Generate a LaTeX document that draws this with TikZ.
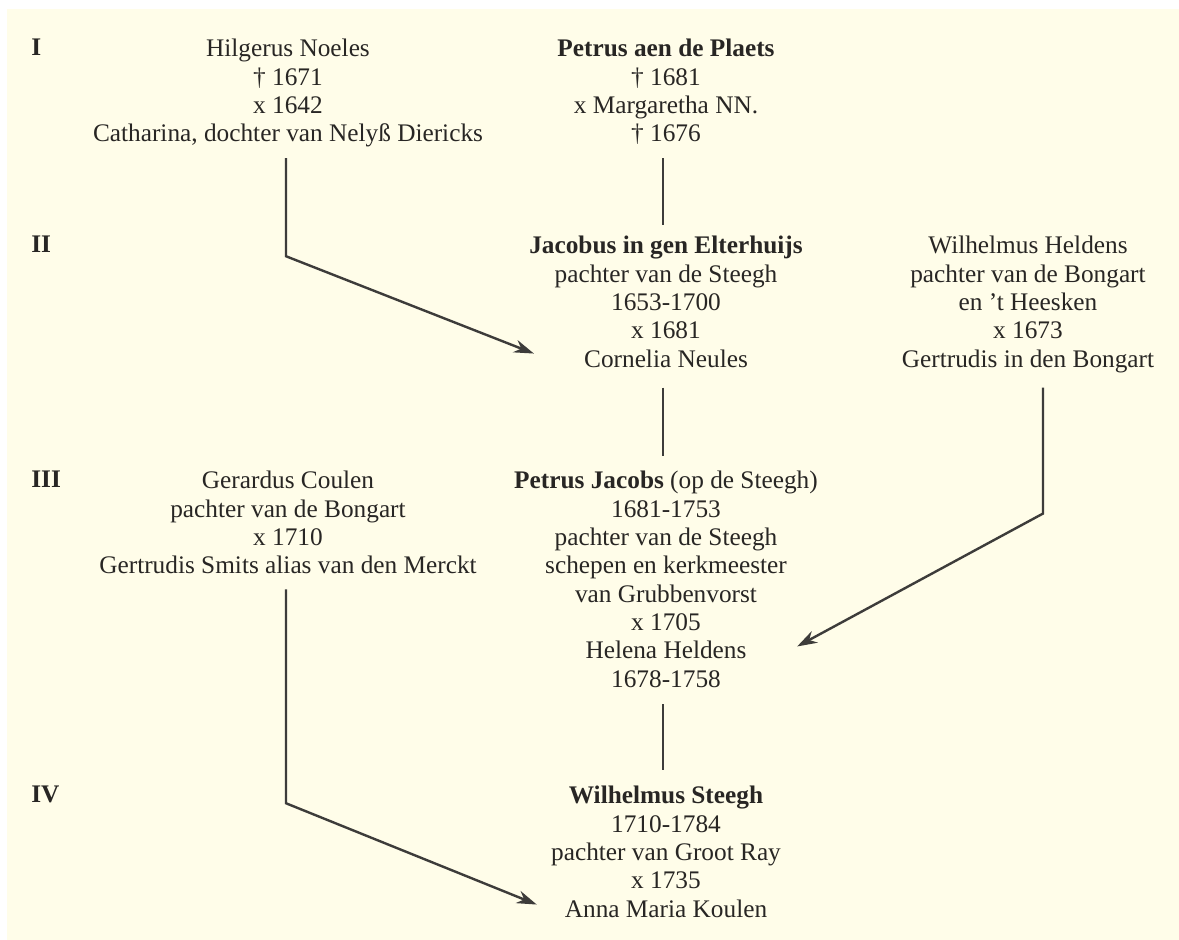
\documentclass[tikz,border=0pt]{standalone}
\usepackage{fontspec}
\setmainfont{Liberation Serif}
\usepackage{tikz}
\usetikzlibrary{arrows.meta}

\definecolor{paper}{RGB}{255,253,233}
\definecolor{ink}{RGB}{40,38,36}

\begin{document}
\begin{tikzpicture}[
  x=0.5pt, y=-0.5pt,
  person/.style={anchor=north, inner sep=0pt, align=center, text depth=0pt,
    text=ink, font=\fontsize{12.65}{14.15}\selectfont},
  gen/.style={anchor=north west, inner sep=0pt, text=ink,
    font=\fontsize{12.65}{14.15}\selectfont\bfseries},
  link/.style={draw=ink!90, line width=1.2pt},
  >={Stealth[length=10pt, width=6.5pt]}
]
% page and paper
\fill[white] (0,0) rectangle (1179,940);
\fill[paper] (7,9) rectangle (1179,940);

% generation labels
\node[gen] (g1) at (31,39) {I};
\node[gen] (g2) at (31,236) {II};
\node[gen] (g3) at (31,471) {III};
\node[gen] (g4) at (31,786) {IV};

% generation I
\node[person] (hilg) at (288,39)
  {Hilgerus Noeles\\\dag\ 1671\\x 1642\\Catharina, dochter van Nelyß Diericks};
\node[person] (plaets) at (666,39)
  {\textbf{Petrus aen de Plaets}\\\dag\ 1681\\x Margaretha NN.\\\dag\ 1676};

% generation II
\node[person] (jac) at (666,236)
  {\textbf{Jacobus in gen Elterhuijs}\\pachter van de Steegh\\1653-1700\\x 1681\\Cornelia Neules};
\node[person] (heldens) at (1028,236)
  {Wilhelmus Heldens\\pachter van de Bongart\\en 't Heesken\\x 1673\\Gertrudis in den Bongart};

% generation III
\node[person] (coulen) at (288,471)
  {Gerardus Coulen\\pachter van de Bongart\\x 1710\\Gertrudis Smits alias van den Merckt};
\node[person] (jacobs) at (666,471)
  {\textbf{Petrus Jacobs} (op de Steegh)\\1681-1753\\pachter van de Steegh\\schepen en kerkmeester\\van Grubbenvorst\\x 1705\\Helena Heldens\\1678-1758};

% generation IV
\node[person] (steegh) at (666,786)
  {\textbf{Wilhelmus Steegh}\\1710-1784\\pachter van Groot Ray\\x 1735\\Anna Maria Koulen};

% descent lines
\draw[link] ([shift={(-3,16)}]plaets.south) -- ([shift={(-3,-11)}]jac.north);
\draw[link] ([shift={(-3,20)}]jac.south) -- ([shift={(-3,-15)}]jacobs.north);
\draw[link] ([shift={(-3,17)}]jacobs.south) -- ([shift={(-3,-16)}]steegh.north);

% marriages
\draw[link, ->] ([shift={(-2,16)}]hilg.south) -- ++(0,98) -- ([shift={(5,-14)}]jac.south west);
\draw[link, ->] ([shift={(15,20)}]heldens.south) -- ++(0,126) -- ([shift={(-21,-41)}]jacobs.south east);
\draw[link, ->] ([shift={(-2,15)}]coulen.south) -- ++(0,214) -- ([shift={(-14,-13)}]steegh.south west);

\end{tikzpicture}
\end{document}
